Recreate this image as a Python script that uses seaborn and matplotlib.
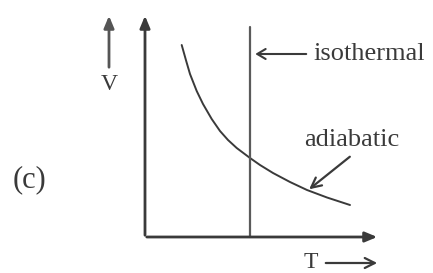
# adiabatic vs isothermal V-T sketch

import matplotlib
matplotlib.use('Agg')
import matplotlib.pyplot as plt
import seaborn as sns

# curve (arbitrary units, origin at the axes corner)
temperature = [3.67, 4.12, 4.5, 5.17, 5.8, 6.67, 7.5, 8.3, 9.17, 10.5,
               11.5, 12.8, 14.5, 16.2, 18.2, 20.5]
volume = [19.2, 17.6, 16.3, 14.6, 13.3, 11.8, 10.6, 9.7, 8.9, 7.9,
          7.2, 6.4, 5.5, 4.7, 3.95, 3.2]
iso_T = 10.5
iso_top = 21.0
t_axis_len = 23.5
v_axis_len = 22.4

sns.set_theme(style='white')
plt.rcParams['font.family'] = ['Liberation Serif', 'DejaVu Serif']

ink = '#3a3a3a'
fig = plt.figure(figsize=(4.33, 2.73), dpi=100)
ax = fig.add_axes([0, 0, 1, 1])
ax.set_xlim(-14.5, 28.8)
ax.set_ylim(-3.6, 23.7)
ax.axis('off')

# adiabatic curve
sns.lineplot(x=temperature, y=volume, sort=False, estimator=None,
             color=ink, linewidth=1.4, ax=ax)
# isothermal line
sns.lineplot(x=[iso_T, iso_T], y=[0, iso_top], sort=False, estimator=None,
             color='#5a5a5a', linewidth=1.6, ax=ax)

# axes with arrow heads
head = '-|>,head_length=0.6,head_width=0.25'
ax.annotate('', xy=(t_axis_len, 0), xytext=(-0.1, 0),
            arrowprops=dict(arrowstyle=head, color=ink, lw=2))
ax.annotate('', xy=(0, v_axis_len), xytext=(0, -0.1),
            arrowprops=dict(arrowstyle=head, color=ink, lw=2))

# V label with arrow
ax.annotate('', xy=(-3.6, 22.4), xytext=(-3.6, 16.7),
            arrowprops=dict(arrowstyle=head, color='#555555', lw=2))
ax.text(-3.6, 15.3, 'V', ha='center', va='center', fontsize=17, color=ink)

# T label with arrow
ax.text(16.6, -2.6, 'T', ha='center', va='center', fontsize=17, color=ink)
ax.annotate('', xy=(23.5, -2.6), xytext=(17.8, -2.6),
            arrowprops=dict(arrowstyle='->,head_length=0.6,head_width=0.3', color=ink, lw=1.6))

# isothermal label
ax.annotate('', xy=(10.75, 18.3), xytext=(16.4, 18.3),
            arrowprops=dict(arrowstyle='->,head_length=0.5,head_width=0.3', color=ink, lw=1.5))
ax.text(16.8, 18.3, 'isothermal', ha='left', va='center', fontsize=19, color=ink)

# adiabatic label
ax.text(20.7, 9.7, 'adiabatic', ha='center', va='center', fontsize=19, color=ink)
ax.annotate('', xy=(16.2, 4.6), xytext=(20.7, 8.2),
            arrowprops=dict(arrowstyle='->,head_length=0.6,head_width=0.3', color=ink, lw=1.6))

ax.text(-11.5, 5.7, '(c)', ha='center', va='center', fontsize=22, color=ink)

fig.savefig('out.png', dpi=100)
